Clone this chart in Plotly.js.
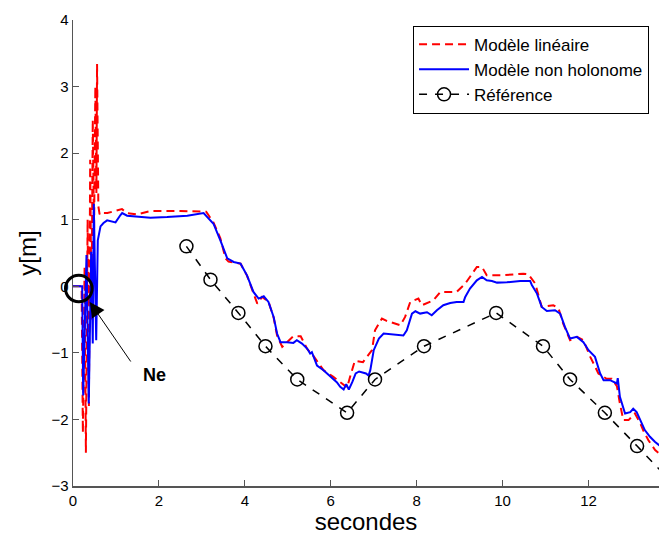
<!DOCTYPE html>
<html>
<head>
<meta charset="utf-8">
<script src="https://cdn.plot.ly/plotly-3.0.1.min.js"></script>
<style>html,body{margin:0;padding:0;background:#fff;}#chart{width:659px;height:540px;}</style>
</head>
<body>
<div id="chart"></div>
<script>
// Modèle linéaire (red dashed)
const linT = [0, 0.2, 0.23, 0.27, 0.30, 0.34, 0.37, 0.40, 0.43, 0.46, 0.49, 0.52, 0.545, 0.56, 0.59, 0.62, 0.64, 0.80, 1.14, 1.25, 1.49, 1.80, 2.5, 3.04, 3.10, 3.27, 3.43, 3.55, 3.62, 3.74, 3.90, 4.05, 4.20, 4.29, 4.40, 4.55, 4.67, 4.75, 4.87, 4.98, 5.13, 5.30, 5.45, 5.60, 5.83, 6.06, 6.38, 6.45, 6.56, 6.75, 6.90, 6.96, 7.03, 7.19, 7.30, 7.62, 7.73, 7.85, 8.04, 8.12, 8.39, 8.55, 8.78, 8.93, 9.13, 9.24, 9.40, 9.52, 9.63, 10.0, 10.25, 10.48, 10.60, 10.76, 10.91, 11.18, 11.30, 11.41, 11.57, 11.73, 11.88, 12.04, 12.23, 12.42, 12.54, 12.66, 12.73, 12.81, 12.93, 13.08, 13.20, 13.27, 13.39, 13.55, 13.64, 13.75];
const linY = [0, 0, -2.2, 0.3, -2.5, 1.0, -1.8, 1.9, -0.5, 2.5, 0.8, 3.0, 1.4, 3.34, 1.2, 1.08, 1.1, 1.1, 1.16, 1.10, 1.08, 1.13, 1.13, 1.13, 1.12, 0.96, 0.72, 0.42, 0.37, 0.36, 0.34, 0.16, -0.10, -0.26, -0.16, -0.23, -0.47, -0.74, -0.91, -0.84, -0.75, -0.75, -0.94, -1.05, -1.26, -1.36, -1.52, -1.36, -1.12, -1.14, -1.0, -0.96, -0.66, -0.485, -0.52, -0.585, -0.46, -0.235, -0.185, -0.285, -0.21, -0.085, -0.085, -0.085, 0.04, 0.14, 0.29, 0.29, 0.165, 0.165, 0.18, 0.19, 0.18, 0.04, -0.31, -0.285, -0.33, -0.56, -0.81, -0.76, -0.81, -1.06, -1.31, -1.39, -1.39, -1.5, -1.76, -2.01, -2.01, -1.91, -2.05, -2.16, -2.31, -2.46, -2.51, -2.6];

// Modèle non holonome (blue solid)
const nhT = [0, 0.214, 0.237, 0.314, 0.367, 0.423, 0.46, 0.484, 0.54, 0.577, 0.64, 0.71, 0.795, 0.99, 1.105, 1.144, 1.26, 1.57, 1.80, 2.19, 2.66, 3.04, 3.27, 3.43, 3.59, 3.74, 3.90, 4.05, 4.20, 4.32, 4.44, 4.55, 4.67, 4.75, 4.83, 4.98, 5.13, 5.21, 5.33, 5.45, 5.52, 5.56, 5.68, 5.83, 5.99, 6.14, 6.22, 6.30, 6.36, 6.42, 6.50, 6.58, 6.66, 6.82, 6.88, 6.92, 7.0, 7.12, 7.23, 7.46, 7.69, 7.77, 7.89, 7.97, 8.08, 8.24, 8.35, 8.47, 8.62, 8.78, 8.93, 9.09, 9.13, 9.24, 9.40, 9.52, 9.63, 9.75, 9.87, 10.10, 10.41, 10.64, 10.68, 10.80, 10.91, 11.03, 11.22, 11.34, 11.45, 11.57, 11.73, 11.88, 12.00, 12.15, 12.27, 12.35, 12.50, 12.66, 12.68, 12.73, 12.85, 12.97, 13.04, 13.12, 13.20, 13.31, 13.43, 13.55, 13.65, 13.75];
const nhY = [0, 0, -1.64, 0.47, -1.76, 0.52, -0.86, 1.24, -0.81, 0.69, 0.90, 0.95, 0.99, 0.96, 1.07, 1.10, 1.06, 1.04, 1.03, 1.04, 1.06, 1.10, 0.94, 0.69, 0.42, 0.365, 0.34, 0.165, -0.085, -0.185, -0.15, -0.235, -0.46, -0.71, -0.84, -0.84, -0.85, -0.81, -0.86, -0.935, -1.01, -0.99, -1.19, -1.26, -1.36, -1.44, -1.51, -1.55, -1.47, -1.55, -1.44, -1.31, -1.28, -1.31, -1.34, -1.26, -0.96, -0.785, -0.71, -0.73, -0.74, -0.66, -0.41, -0.375, -0.41, -0.39, -0.435, -0.36, -0.285, -0.25, -0.235, -0.235, -0.16, -0.035, 0.09, 0.14, 0.09, 0.08, 0.055, 0.06, 0.08, 0.08, 0.02, -0.11, -0.31, -0.37, -0.36, -0.41, -0.61, -0.785, -0.76, -0.84, -0.96, -1.06, -1.31, -1.41, -1.41, -1.46, -1.38, -1.66, -1.91, -1.89, -1.84, -1.89, -2.01, -2.16, -2.26, -2.34, -2.39, -2.45];

// Référence (black dashed with circles)
const refT = [2.64, 3.20, 3.85, 4.48, 5.22, 6.38, 7.03, 8.17, 9.85, 10.94, 11.57, 12.38, 13.13, 13.87];
const refY = [0.6, 0.1, -0.4, -0.9, -1.4, -1.9, -1.4, -0.9, -0.4, -0.9, -1.4, -1.9, -2.4, -2.9];

const names = ['Modèle linéaire', 'Modèle non holonome', 'Référence'];
const xTicks = [0, 2, 4, 6, 8, 10, 12];
const yTicks = [-3, -2, -1, 0, 1, 2, 3, 4];

const FONT = '"Liberation Sans", Arial, Helvetica, sans-serif';

const traces = [
  {x: linT, y: linY, name: names[0], mode: 'lines', type: 'scatter',
   line: {color: '#ff0000', width: 2, dash: '8px,5px'}},
  {x: nhT, y: nhY, name: names[1], mode: 'lines', type: 'scatter',
   line: {color: '#0000ff', width: 2}},
  {x: refT, y: refY, name: names[2], mode: 'lines+markers', type: 'scatter',
   line: {color: '#000000', width: 1.5, dash: '8px,8px'},
   marker: {symbol: 'circle-open', size: 13, color: '#000', line: {width: 1.5, color: '#000'}}}
];

const axisCommon = {
  showgrid: false, zeroline: false, showline: true, linecolor: '#555', linewidth: 1.5,
  ticks: 'inside', ticklen: 6, tickcolor: '#555', tickwidth: 1,
  tickfont: {family: FONT, size: 15, color: '#000'}, mirror: false
};

const layout = {
  width: 659, height: 540,
  margin: {l: 72.5, r: 0, t: 19.5, b: 54},
  paper_bgcolor: '#fff', plot_bgcolor: '#fff',
  showlegend: true,
  font: {family: FONT, color: '#000'},
  xaxis: Object.assign({}, axisCommon, {
    range: [0, 13.64], tickvals: xTicks, ticktext: xTicks.map(String),
    title: {text: 'secondes', font: {family: FONT, size: 24, color: '#000'}, standoff: 4}
  }),
  yaxis: Object.assign({}, axisCommon, {
    range: [-3, 4], tickvals: yTicks, ticktext: yTicks.map(v => v < 0 ? '\u2212' + Math.abs(v) : String(v)),
    title: {text: 'y[m]', font: {family: FONT, size: 24, color: '#000'}, standoff: 8}
  }),
  legend: {
    x: 0.983, y: 0.988, xanchor: 'right', yanchor: 'top',
    bgcolor: '#fff', bordercolor: '#000', borderwidth: 1,
    font: {family: FONT, size: 17, color: '#000'},
    tracegroupgap: 0, itemwidth: 50
  },
  shapes: [{
    type: 'circle', xref: 'paper', yref: 'paper',
    x0: -0.0128, x1: 0.0326, y0: 0.3953, y1: 0.4523,
    line: {color: '#000', width: 3}, fillcolor: 'rgba(0,0,0,0)'
  }],
  annotations: [
    {x: 0.39, y: -0.236, xref: 'x', yref: 'y', ax: 42, ay: 61, text: '',
     showarrow: true, arrowhead: 2, arrowsize: 3, arrowwidth: 1, arrowcolor: '#000'},
    {x: 1.9, y: -1.34, xref: 'x', yref: 'y', text: '<b>Ne</b>', showarrow: false,
     font: {family: FONT, size: 18, color: '#000'}}
  ]
};

Plotly.newPlot('chart', traces, layout, {displayModeBar: false, staticPlot: true});
</script>
</body>
</html>
